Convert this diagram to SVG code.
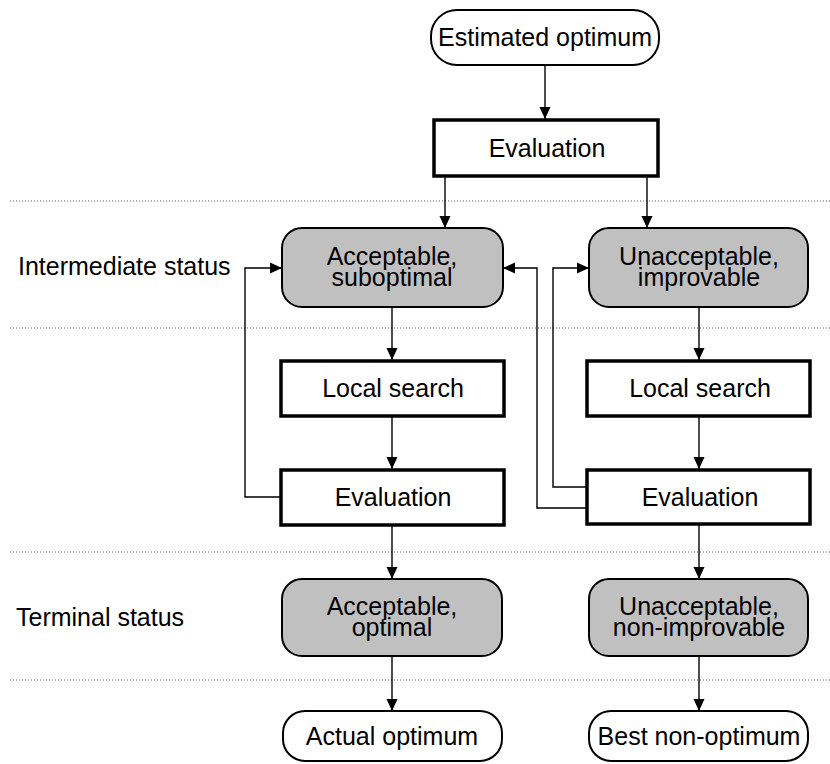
<svg xmlns="http://www.w3.org/2000/svg" width="830" height="764" viewBox="0 0 830 764">
  <defs>
    <marker id="arrow" viewBox="0 0 12 12" refX="12" refY="6" markerWidth="12" markerHeight="12" markerUnits="userSpaceOnUse" orient="auto">
      <path d="M0,0.5 L12,6 L0,11.5 Z" fill="#000"/>
    </marker>
    <style>
      text { font-family: "Liberation Sans", Arial, sans-serif; font-size: 25px; fill: #000; }
      .mid { text-anchor: middle; }
      .terminal { fill: #fff; stroke: #000; stroke-width: 2; }
      .status { fill: #c0c0c0; stroke: #000; stroke-width: 2; }
      .process { fill: #fff; stroke: #000; stroke-width: 3.5; }
      .sep { stroke: #555; stroke-width: 1; stroke-dasharray: 1 2; fill: none; }
      .conn { stroke: #000; stroke-width: 1.4; fill: none; marker-end: url(#arrow); }
    </style>
  </defs>
  <rect width="830" height="764" fill="#fff"/>

  <!-- dotted band separators -->
  <g id="separators">
    <line class="sep" x1="10" y1="201" x2="830" y2="201"/>
    <line class="sep" x1="10" y1="328" x2="830" y2="328"/>
    <line class="sep" x1="10" y1="552" x2="830" y2="552"/>
    <line class="sep" x1="10" y1="680" x2="830" y2="680"/>
  </g>

  <!-- band labels -->
  <g id="band-labels">
    <text x="18" y="275">Intermediate status</text>
    <text x="16" y="626">Terminal status</text>
  </g>

  <!-- connectors -->
  <g id="connectors">
    <line class="conn" x1="545" y1="65" x2="545" y2="119"/>
    <line class="conn" x1="445" y1="176" x2="445" y2="228"/>
    <line class="conn" x1="647" y1="176" x2="647" y2="228"/>
    <line class="conn" x1="392" y1="307" x2="392" y2="360"/>
    <line class="conn" x1="392" y1="417" x2="392" y2="469"/>
    <polyline class="conn" points="280,497 245,497 245,268 282,268"/>
    <line class="conn" x1="392" y1="525" x2="392" y2="579"/>
    <line class="conn" x1="392" y1="656" x2="392" y2="711"/>
    <line class="conn" x1="699" y1="307" x2="699" y2="360"/>
    <line class="conn" x1="699" y1="417" x2="699" y2="469"/>
    <polyline class="conn" points="586,487 553,487 553,268 589,268"/>
    <polyline class="conn" points="586,508 537,508 537,268 503,268"/>
    <line class="conn" x1="699" y1="524" x2="699" y2="579"/>
    <line class="conn" x1="699" y1="656" x2="699" y2="711"/>
  </g>

  <!-- nodes -->
  <g id="estimated-optimum">
    <rect class="terminal" x="431" y="10" width="228" height="55" rx="26"/>
    <text class="mid" x="545" y="46">Estimated optimum</text>
  </g>
  <g id="evaluation-top">
    <rect class="process" x="434" y="120" width="224" height="56"/>
    <text class="mid" x="547" y="157">Evaluation</text>
  </g>
  <g id="acceptable-suboptimal">
    <rect class="status" x="282" y="228" width="221" height="79" rx="20"/>
    <text class="mid" x="392" y="265">Acceptable,<tspan x="392" dy="21">suboptimal</tspan></text>
  </g>
  <g id="unacceptable-improvable">
    <rect class="status" x="589" y="228" width="219" height="79" rx="20"/>
    <text class="mid" x="699" y="265">Unacceptable,<tspan x="699" dy="21">improvable</tspan></text>
  </g>
  <g id="local-search-left">
    <rect class="process" x="281" y="361" width="223" height="55"/>
    <text class="mid" x="393" y="397">Local search</text>
  </g>
  <g id="local-search-right">
    <rect class="process" x="587" y="361" width="223" height="55"/>
    <text class="mid" x="700" y="397">Local search</text>
  </g>
  <g id="evaluation-left">
    <rect class="process" x="281" y="470" width="223" height="55"/>
    <text class="mid" x="393" y="506">Evaluation</text>
  </g>
  <g id="evaluation-right">
    <rect class="process" x="587" y="470" width="223" height="54"/>
    <text class="mid" x="700" y="506">Evaluation</text>
  </g>
  <g id="acceptable-optimal">
    <rect class="status" x="282" y="579" width="220" height="77" rx="20"/>
    <text class="mid" x="392" y="615">Acceptable,<tspan x="392" dy="21">optimal</tspan></text>
  </g>
  <g id="unacceptable-non-improvable">
    <rect class="status" x="589" y="579" width="219" height="77" rx="20"/>
    <text class="mid" x="699" y="615">Unacceptable,<tspan x="699" dy="21">non-improvable</tspan></text>
  </g>
  <g id="actual-optimum">
    <rect class="terminal" x="283" y="711" width="219" height="50" rx="22"/>
    <text class="mid" x="392" y="745">Actual optimum</text>
  </g>
  <g id="best-non-optimum">
    <rect class="terminal" x="589" y="711" width="219" height="50" rx="22"/>
    <text class="mid" x="699" y="745">Best non-optimum</text>
  </g>
</svg>
